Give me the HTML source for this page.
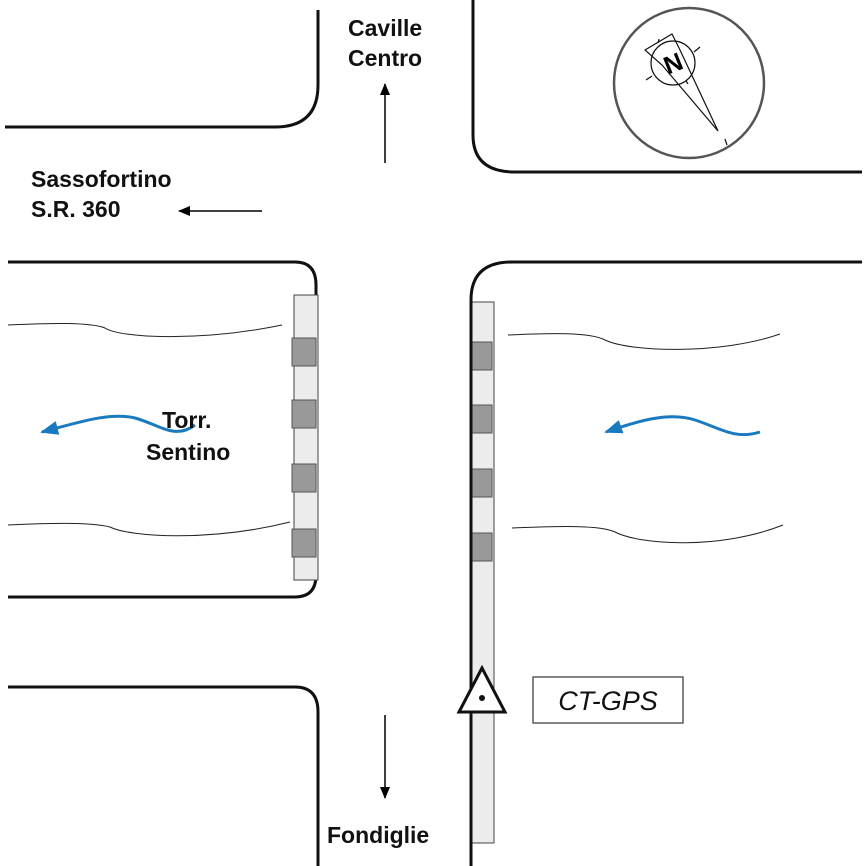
<!DOCTYPE html>
<html><head><style>body{margin:0;background:#fff}svg{display:block}text{font-family:"Liberation Sans",Arial,sans-serif}</style></head><body>
<svg width="866" height="866" viewBox="0 0 866 866">
<defs><marker id="ah" markerWidth="14" markerHeight="12" refX="11" refY="5" orient="auto" markerUnits="userSpaceOnUse"><path d="M0,0 L12,5 L0,10 Z" fill="#000"/></marker>
<marker id="bh" markerWidth="20" markerHeight="16" refX="2" refY="7" orient="auto" markerUnits="userSpaceOnUse"><path d="M18,0 L0,7 L18,14 Z" fill="#1a7ac0"/></marker></defs>
<g fill="none" stroke="#111" stroke-width="3">
<path d="M5,127 H275 Q318,127 318,85 V10"/>
<path d="M473,0 V135 Q473,172 515,172 H862"/>
<path d="M8,262 H295 Q316,262 316,285 V575 Q316,597 295,597 H8"/>
<path d="M471,866 V300 Q471,262 512,262 H862"/>
<path d="M8,687 H295 Q318,687 318,712 V866"/>
</g>
<g fill="#ececec" stroke="#444" stroke-width="1">
<rect x="294" y="295" width="24" height="285"/>
<rect x="470" y="302" width="24" height="541"/>
</g>
<g fill="#999" stroke="#555" stroke-width="1">
<rect x="292" y="338" width="24" height="28"/><rect x="292" y="400" width="24" height="28"/><rect x="292" y="464" width="24" height="28"/><rect x="292" y="529" width="24" height="28"/>
<rect x="470" y="342" width="22" height="28"/><rect x="470" y="405" width="22" height="28"/><rect x="470" y="469" width="22" height="28"/><rect x="470" y="533" width="22" height="28"/>
</g>
<line x1="471" y1="300" x2="471" y2="866" stroke="#111" stroke-width="3"/>
<g fill="none" stroke="#222" stroke-width="1">
<path d="M8,325 C50,323 90,322 105,328 C120,338 200,342 282,325"/>
<path d="M8,525 C50,523 90,522 110,527 C130,537 210,542 290,522"/>
<path d="M508,335 C550,333 590,332 605,340 C630,352 720,355 780,334"/>
<path d="M512,528 C560,526 600,525 615,532 C640,545 720,550 783,525"/>
</g>
<g fill="none" stroke="#1a7ac0" stroke-width="3">
<path d="M42,432 C80,422 110,412 135,418 C160,425 175,440 195,425" marker-start="url(#bh)"/>
<path d="M606,432 C640,420 670,412 695,420 C720,428 735,440 760,432" marker-start="url(#bh)"/>
</g>
<g stroke="#000" stroke-width="1.5">
<line x1="385" y1="163" x2="385" y2="84" marker-end="url(#ah)"/>
<line x1="262" y1="211" x2="179" y2="211" marker-end="url(#ah)"/>
<line x1="385" y1="715" x2="385" y2="798" marker-end="url(#ah)"/>
</g>
<g font-weight="bold" font-size="23" fill="#111">
<text x="348" y="36">Caville</text><text x="348" y="66">Centro</text>
<text x="31" y="187">Sassofortino</text><text x="31" y="217">S.R. 360</text>
<text x="162" y="428">Torr.</text><text x="146" y="460">Sentino</text>
<text x="327" y="843">Fondiglie</text>
</g>
<circle cx="689" cy="83" r="75" fill="none" stroke="#555" stroke-width="2.5"/>
<g fill="none" stroke="#111" stroke-width="1.2">
<circle cx="673" cy="63" r="22"/>
<path d="M645,50 L672,34 L680,50 L718,131 L662,65 Z"/>
<line x1="658" y1="43" x2="659" y2="39"/><line x1="694" y1="52" x2="700" y2="47"/><line x1="652" y1="76" x2="646" y2="80"/><line x1="686" y1="81" x2="688" y2="84"/><line x1="725" y1="139" x2="727" y2="145"/>
</g>
<text x="673" y="72" font-size="25" font-weight="bold" text-anchor="middle" transform="rotate(-22 673 63)">N</text>
<path d="M482,668 L459,712 L505,712 Z" fill="#fff" stroke="#111" stroke-width="3"/>
<circle cx="482" cy="698" r="3" fill="#111"/>
<rect x="533" y="677" width="150" height="46" fill="#fff" stroke="#333" stroke-width="1.2"/>
<text x="608" y="710" font-size="27" font-style="italic" text-anchor="middle" fill="#111">CT-GPS</text>
</svg>
</body></html>
